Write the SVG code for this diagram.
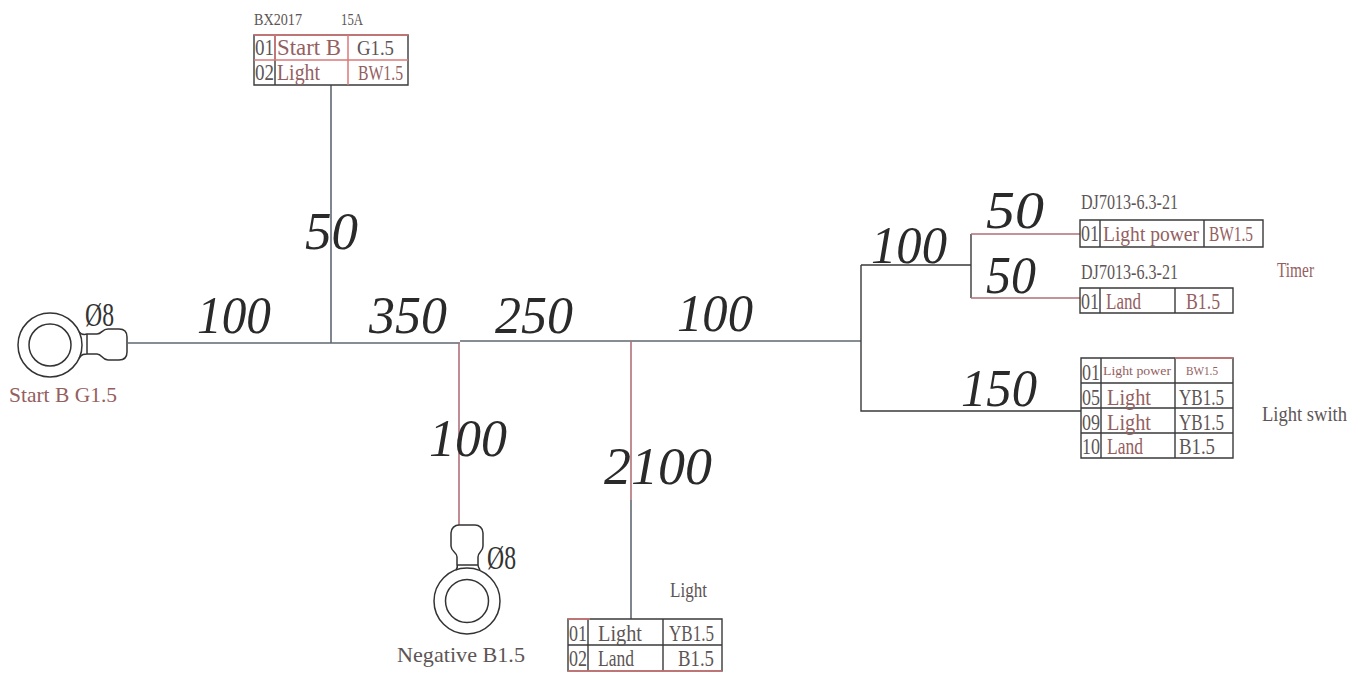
<svg xmlns="http://www.w3.org/2000/svg" width="1366" height="675" viewBox="0 0 1366 675">
<style>
text{font-family:"Liberation Serif","DejaVu Serif",serif;fill:#5d5555}
.n{font-size:52px;font-style:italic;fill:#2a2a2a}
.p{font-size:34px;fill:#333}
.s{font-size:22px}
.m{font-size:24px}
.c{font-size:17px}
.r{fill:#94605f}
.w{fill:none;stroke:#5f6870;stroke-width:1.6}
.wr{fill:none;stroke:#b07078;stroke-width:1.6}
.b{fill:none;stroke:#333;stroke-width:1.5}
.rb{fill:none;stroke:#d97a7a;stroke-width:1.5}
.t{fill:none;stroke:#3a3a3a;stroke-width:1.4}
</style>
<rect width="1366" height="675" fill="#fff"/>
<g id="connectors">
<path class="w" d="M128 343H460M460 341H861"/>
<path class="w" d="M331 85V343"/>
<path class="wr" d="M459 343V525"/>
<path class="wr" d="M631 341V500"/>
<path class="w" d="M631 500V619"/>
<path class="t" d="M861 265V411H1081M861 265H971M971 234V298"/>
<path class="wr" d="M971 234H1080M971 298H1080"/>
</g>
<g id="dimensions">
<text class="n" x="197" y="333" textLength="74" lengthAdjust="spacingAndGlyphs">100</text>
<text class="n" x="305" y="249" textLength="53" lengthAdjust="spacingAndGlyphs">50</text>
<text class="n" x="369" y="333" textLength="78" lengthAdjust="spacingAndGlyphs">350</text>
<text class="n" x="495" y="333" textLength="78" lengthAdjust="spacingAndGlyphs">250</text>
<text class="n" x="677" y="331" textLength="76" lengthAdjust="spacingAndGlyphs">100</text>
<text class="n" x="429" y="456" textLength="78" lengthAdjust="spacingAndGlyphs">100</text>
<text class="n" x="604" y="484" textLength="108" lengthAdjust="spacingAndGlyphs">2100</text>
<text class="n" x="871" y="263" textLength="76" lengthAdjust="spacingAndGlyphs">100</text>
<text class="n" x="986" y="228" textLength="58" lengthAdjust="spacingAndGlyphs">50</text>
<text class="n" x="986" y="293" textLength="50" lengthAdjust="spacingAndGlyphs">50</text>
<text class="n" x="961" y="406" textLength="76" lengthAdjust="spacingAndGlyphs">150</text>
</g>
<g id="terminal-start">
<circle class="b" cx="50" cy="345" r="32"/>
<circle class="b" cx="50" cy="345" r="21"/>
<path class="b" d="M79 332C82 335 84 335 87 334H97C102 334 102 329 108 329H119C124 329 127 332 127 337V352C127 357 124 360 119 360H108C102 360 102 354 97 354H87C84 354 82 354 79 358M87 334V354"/>
<text class="p" x="85" y="326" textLength="29" lengthAdjust="spacingAndGlyphs">Ø8</text>
<text class="s r" x="9" y="402" textLength="108" lengthAdjust="spacingAndGlyphs">Start B G1.5</text>
</g>
<g id="terminal-negative">
<circle class="b" cx="467" cy="601" r="33"/>
<circle class="b" cx="467" cy="601" r="21.500"/>
<path class="b" d="M456 570C458 567 457 565 457 565V557C457 552 451 552 451 546V533C451 528 455 525 459 525H475C479 525 483 528 483 533V546C483 552 478 552 478 557V565C478 565 478 567 480 570M457 565H478"/>
<text class="p" x="487" y="569" textLength="29" lengthAdjust="spacingAndGlyphs">Ø8</text>
<text class="s" x="397" y="662" textLength="128" lengthAdjust="spacingAndGlyphs">Negative  B1.5</text>
</g>
<g id="connector-bx2017">
<text class="c" x="254" y="25" textLength="48" lengthAdjust="spacingAndGlyphs">BX2017</text>
<text class="c" x="341" y="25" textLength="22" lengthAdjust="spacingAndGlyphs">15A</text>
<path class="t" d="M254 35H408V85H254ZM275 35V85"/>
<path class="rb" d="M254 35H408M254 60H408M348 35V85M275 35V60"/>
<text class="m" x="255" y="55" textLength="19" lengthAdjust="spacingAndGlyphs">01</text>
<text class="m r" x="277" y="55" textLength="64" lengthAdjust="spacingAndGlyphs">Start B</text>
<text class="s" x="357" y="55" textLength="37" lengthAdjust="spacingAndGlyphs">G1.5</text>
<text class="m" x="255" y="80" textLength="19" lengthAdjust="spacingAndGlyphs">02</text>
<text class="m r" x="277" y="80" textLength="43" lengthAdjust="spacingAndGlyphs">Light</text>
<text class="s r" x="358" y="80" textLength="45" lengthAdjust="spacingAndGlyphs">BW1.5</text>
</g>
<g id="connector-timer-1">
<text class="s" x="1081" y="209" textLength="97" lengthAdjust="spacingAndGlyphs">DJ7013-6.3-21</text>
<path class="t" d="M1080 220H1263V247H1080ZM1100 220V247M1204 220V247"/>
<text class="m" x="1081" y="241" textLength="18" lengthAdjust="spacingAndGlyphs">01</text>
<text class="s r" x="1103" y="241" textLength="96" lengthAdjust="spacingAndGlyphs">Light power</text>
<text class="s r" x="1209" y="241" textLength="44" lengthAdjust="spacingAndGlyphs">BW1.5</text>
</g>
<g id="connector-timer-2">
<text class="s" x="1081" y="279" textLength="97" lengthAdjust="spacingAndGlyphs">DJ7013-6.3-21</text>
<path class="t" d="M1080 288H1233V313H1080ZM1100 288V313M1175 288V313"/>
<text class="m" x="1081" y="309" textLength="18" lengthAdjust="spacingAndGlyphs">01</text>
<text class="m r" x="1106" y="309" textLength="35" lengthAdjust="spacingAndGlyphs">Land</text>
<text class="m r" x="1186" y="309" textLength="34" lengthAdjust="spacingAndGlyphs">B1.5</text>
<text class="s r" x="1277" y="277" textLength="37" lengthAdjust="spacingAndGlyphs">Timer</text>
</g>
<g id="connector-light-switch">
<path class="t" d="M1081 358H1233V458H1081ZM1081 383H1233M1081 408H1233M1081 433H1233M1101 358V458M1175 358V458"/>
<path class="rb" d="M1175 358H1233"/>
<text class="m" x="1082" y="380" textLength="18" lengthAdjust="spacingAndGlyphs">01</text>
<text style="font-size:12px" class="r" x="1103" y="375" textLength="68" lengthAdjust="spacingAndGlyphs">Light power</text>
<text style="font-size:12px" class="r" x="1186" y="375" textLength="32" lengthAdjust="spacingAndGlyphs">BW1.5</text>
<text class="m" x="1082" y="405" textLength="18" lengthAdjust="spacingAndGlyphs">05</text>
<text class="m r" x="1107" y="405" textLength="44" lengthAdjust="spacingAndGlyphs">Light</text>
<text class="m" x="1179" y="405" textLength="45" lengthAdjust="spacingAndGlyphs">YB1.5</text>
<text class="m" x="1082" y="430" textLength="18" lengthAdjust="spacingAndGlyphs">09</text>
<text class="m r" x="1107" y="430" textLength="44" lengthAdjust="spacingAndGlyphs">Light</text>
<text class="m" x="1179" y="430" textLength="45" lengthAdjust="spacingAndGlyphs">YB1.5</text>
<text class="m" x="1082" y="454" textLength="18" lengthAdjust="spacingAndGlyphs">10</text>
<text class="m r" x="1107" y="454" textLength="36" lengthAdjust="spacingAndGlyphs">Land</text>
<text class="m" x="1179" y="454" textLength="36" lengthAdjust="spacingAndGlyphs">B1.5</text>
<text class="s" x="1262" y="421" textLength="85" lengthAdjust="spacingAndGlyphs">Light swith</text>
</g>
<g id="connector-light">
<text class="s" x="670" y="597" textLength="37" lengthAdjust="spacingAndGlyphs">Light</text>
<path class="t" d="M568 619H722V671H568ZM568 645H722M588 619V671M663 619V671"/>
<path class="rb" d="M568 619H590M568 671H722"/>
<text class="m" x="569" y="641" textLength="18" lengthAdjust="spacingAndGlyphs">01</text>
<text class="m" x="598" y="641" textLength="44" lengthAdjust="spacingAndGlyphs">Light</text>
<text class="m" x="669" y="641" textLength="45" lengthAdjust="spacingAndGlyphs">YB1.5</text>
<text class="m" x="569" y="666" textLength="18" lengthAdjust="spacingAndGlyphs">02</text>
<text class="m" x="598" y="666" textLength="36" lengthAdjust="spacingAndGlyphs">Land</text>
<text class="m" x="678" y="666" textLength="36" lengthAdjust="spacingAndGlyphs">B1.5</text>
</g>
</svg>
